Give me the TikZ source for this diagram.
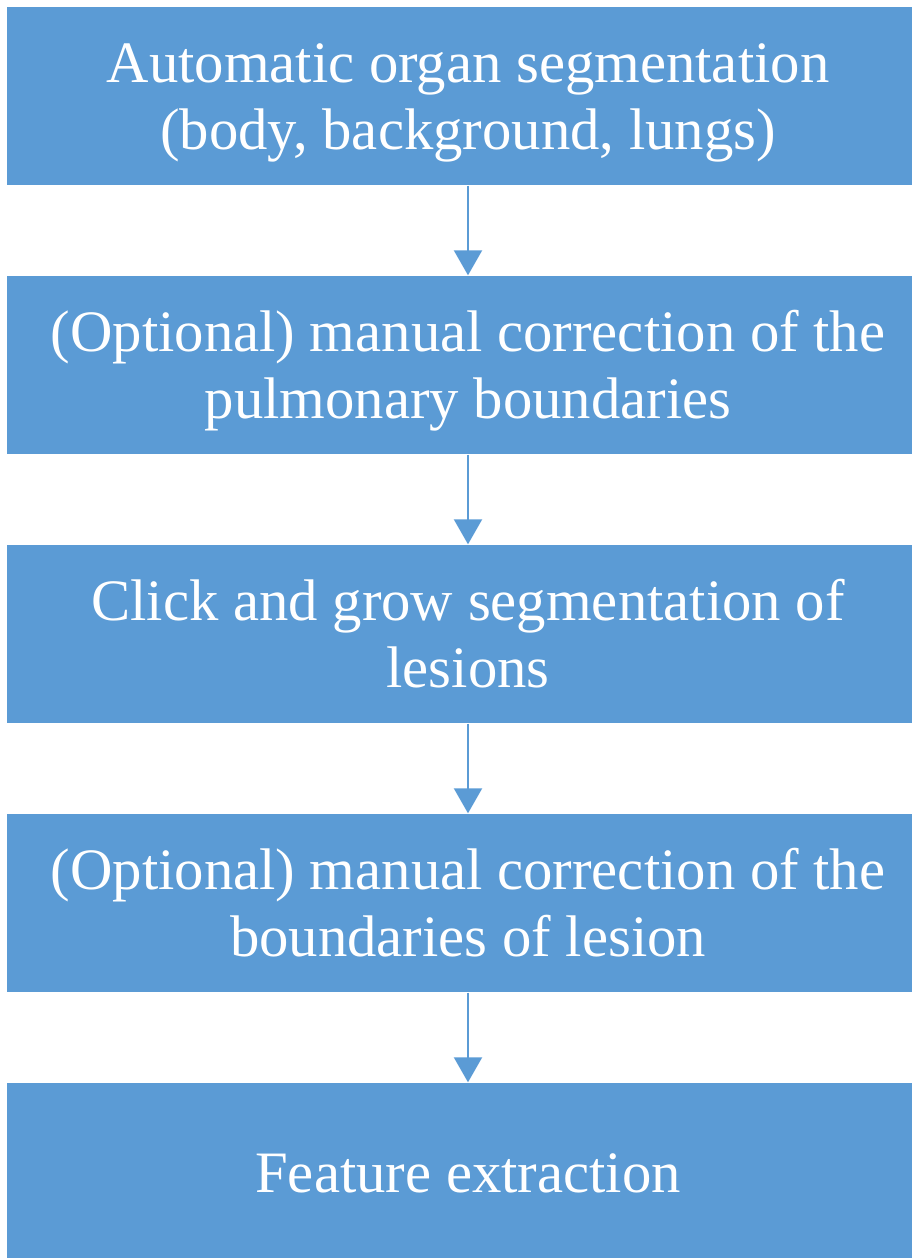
\documentclass[tikz,border=0pt]{standalone}
\usepackage{fontspec}
\setmainfont{Liberation Serif}
\usetikzlibrary{arrows.meta}

\definecolor{stepblue}{HTML}{5B9BD5}

\tikzset{
	stepbox/.style={fill=stepblue, draw=none, text=white, align=center,
		minimum width=9.22cm, minimum height=1.78cm, inner sep=0pt,
		text height=1.19cm, text depth=0.13cm,
		font=\fontsize{16.7}{19}\selectfont},
	onestep/.style={stepbox, text height=0.54cm},
	steparrow/.style={draw=stepblue, line width=0.6pt,
		-{Triangle[width=0.28cm, length=0.25cm]}}
}

\begin{document}
\begin{tikzpicture}
			\def \hor{ 4.68 };
			\def \ver{ 2.69 };
			\useasboundingbox (0,0) rectangle (9.11,-12.58);
			\node[stepbox] (seg) at (\hor,-0.96) {Automatic organ segmentation\\(body, background, lungs)};
			\node[stepbox] (pulm) at (\hor,-0.96-1*\ver) {(Optional) manual correction of the\\pulmonary boundaries};
			\node[stepbox] (grow) at (\hor,-0.96-2*\ver) {Click and grow segmentation of\\lesions};
			\node[stepbox] (lesion) at (\hor,-0.96-3*\ver) {(Optional) manual correction of the\\boundaries of lesion};
			\node[onestep] (feat) at (\hor,-0.96-4*\ver) {Feature extraction};
			\draw[steparrow] (seg) -- (pulm);
			\draw[steparrow] (pulm) -- (grow);
			\draw[steparrow] (grow) -- (lesion);
			\draw[steparrow] (lesion) -- (feat);
		\end{tikzpicture}
\end{document}
